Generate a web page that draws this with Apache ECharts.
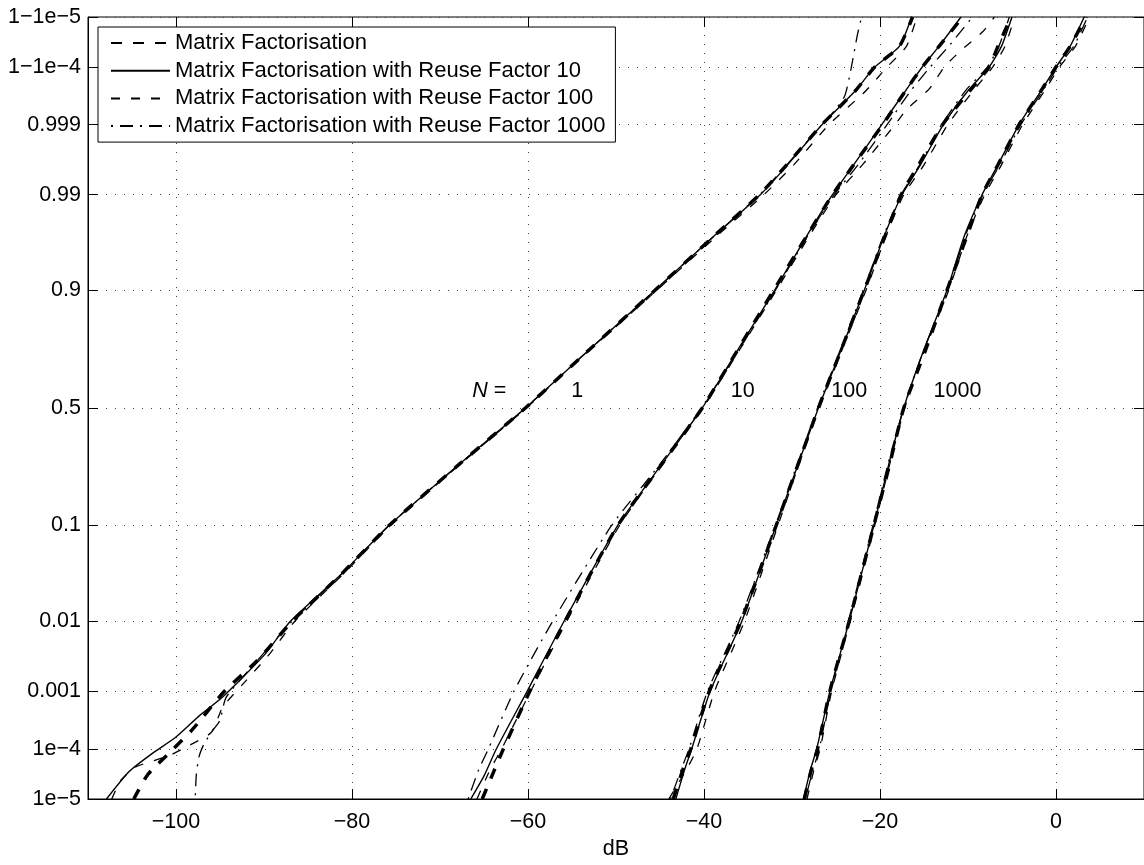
<!DOCTYPE html>
<html>
<head>
<meta charset="utf-8">
<script src="https://cdn.jsdelivr.net/npm/echarts@6/dist/echarts.min.js"></script>
<style>
  html, body { margin: 0; padding: 0; background: #fff; }
  #chart { width: 1144px; height: 865px; }
</style>
</head>
<body>
<div id="chart"></div>
<script>
// axis ticks
const xTicks = [-100, -80, -60, -40, -20, 0];
const yTickProbs = [1e-5, 1e-4, 0.001, 0.01, 0.1, 0.5, 0.9, 0.99, 0.999, 0.9999, 0.99999];
const yTickLabels = ["1e\u22125", "1e\u22124", "0.001", "0.01", "0.1", "0.5", "0.9", "0.99", "0.999", "1\u22121e\u22124", "1\u22121e\u22125"];

const seriesNames = [
  "Matrix Factorisation",
  "Matrix Factorisation with Reuse Factor 10",
  "Matrix Factorisation with Reuse Factor 100",
  "Matrix Factorisation with Reuse Factor 1000",
];

// curve labels (dB, probability)
const annoTexts = ["N =", "1", "10", "100", "1000"];
const annoDb = [-64.4, -54.4, -35.6, -23.5, -11.2];
const annoProb = 0.572;

// each curve: [dB, cumulative probability]
// N = 1
const mfN1 = [[-104.8,1e-5],[-103.2,3.2e-5],[-100.3,1e-4],[-98.1,2.3e-4],[-94.5,1e-3],[-90.7,3e-3],[-86.8,0.01],[-81.2,0.035],[-75.8,0.1],[-67.8,0.27],[-60.3,0.5],[-53.3,0.73],[-45.6,0.9],[-38.8,0.97],[-33.7,0.99],[-30.6,0.996],[-26.6,0.999],[-22.8,0.99973],[-20.6,0.9999],[-17.8,0.99996],[-16.3,0.99999]];
const r10N1 = [[-107.9,1e-5],[-105.3,3.7e-5],[-102.8,8e-5],[-100,1.66e-4],[-97.3,4e-4],[-94.7,8.1e-4],[-89.9,3.6e-3],[-87,0.01],[-81.2,0.035],[-75.8,0.1],[-67.8,0.27],[-60.3,0.5],[-53.3,0.73],[-45.6,0.9],[-38.8,0.97],[-33.6,0.99],[-30.5,0.996],[-26.6,0.999],[-22.8,0.99973],[-20.6,0.9999],[-17.8,0.99996],[-16.4,0.99999]];
const r100N1 = [[-107.3,1e-5],[-106.3,2.4e-5],[-104.6,4.5e-5],[-102.5,6e-5],[-100.7,7.6e-5],[-98.8,1.1e-4],[-96,2e-4],[-94.7,5.5e-4],[-92.4,1.3e-3],[-89.4,3.6e-3],[-86.5,0.01],[-81,0.035],[-75.6,0.1],[-67.7,0.27],[-60.2,0.5],[-53.2,0.73],[-45.4,0.9],[-38.5,0.97],[-33.2,0.99],[-29.8,0.996],[-25.8,0.999],[-21.6,0.99973],[-19.2,0.9999],[-17,0.99996],[-15.8,0.99999]];
const r1000N1 = [[-97.8,1.2e-5],[-97.7,3e-5],[-97.4,7e-5],[-96.8,1.26e-4],[-95.8,2.2e-4],[-95,3.3e-4],[-94.3,8e-4],[-90.7,3e-3],[-86.8,0.01],[-81.2,0.035],[-75.8,0.1],[-67.8,0.27],[-60.3,0.5],[-53.3,0.73],[-45.6,0.9],[-38.8,0.97],[-33.7,0.99],[-30.6,0.996],[-26.6,0.999],[-25.2,0.9994],[-24,0.99967],[-23.3,0.99989],[-22.6,0.999975],[-22.1,0.99999]];

// N = 10
const mfN10 = [[-65.2,1e-5],[-63.8,4e-5],[-62.8,1e-4],[-59.8,0.001],[-55.8,0.01],[-49.8,0.1],[-44.8,0.27],[-40.2,0.5],[-36.3,0.73],[-32.1,0.9],[-28.3,0.97],[-25.4,0.99],[-23,0.996],[-19.7,0.999],[-17.1,0.99973],[-15.2,0.9999],[-13.3,0.99996],[-10.6,0.99999]];
const r10N10 = [[-66.5,1e-5],[-65,3e-5],[-63.6,1e-4],[-60.1,0.001],[-55.9,0.01],[-49.8,0.1],[-44.8,0.27],[-40.2,0.5],[-36.3,0.73],[-32,0.9],[-28.3,0.97],[-25.4,0.99],[-23,0.996],[-19.8,0.999],[-17.1,0.99973],[-15.2,0.9999],[-13.3,0.99996],[-10.8,0.99999]];
const r100N10 = [[-65.8,1e-5],[-64.3,4e-5],[-63,1e-4],[-59.7,0.001],[-55.6,0.01],[-49.6,0.1],[-44.7,0.27],[-40.1,0.5],[-36.1,0.73],[-31.8,0.9],[-28,0.97],[-25,0.99],[-22,0.996],[-18.3,0.999],[-16.9,0.99945],[-14.4,0.99975],[-12.7,0.9999],[-10.9,0.99995],[-8.3,0.99998],[-7,0.99999]];
const r1000N10 = [[-66.8,1e-5],[-65.6,4e-5],[-64.5,1e-4],[-61.6,0.001],[-57.2,0.01],[-50.5,0.1],[-45,0.27],[-40.3,0.5],[-36.2,0.73],[-31.9,0.9],[-28.2,0.97],[-25.2,0.99],[-22.5,0.996],[-19.2,0.999],[-16.5,0.99973],[-14.3,0.9999],[-12.2,0.99996],[-9.5,0.99999]];

// N = 100
const mfN100 = [[-43.5,1e-5],[-42.4,4e-5],[-41.5,1e-4],[-39.4,0.001],[-35.8,0.01],[-31.8,0.1],[-29.3,0.27],[-27,0.5],[-24.5,0.73],[-21.8,0.9],[-19.4,0.97],[-17.6,0.99],[-15.6,0.996],[-12.9,0.999],[-9.8,0.99973],[-7.6,0.9999],[-6.6,0.99996],[-5.1,0.99999]];
const r10N100 = [[-43.2,1e-5],[-42.2,4e-5],[-41.4,1e-4],[-39.3,0.001],[-35.7,0.01],[-31.8,0.1],[-29.3,0.27],[-27,0.5],[-24.5,0.73],[-21.8,0.9],[-19.5,0.97],[-17.5,0.99],[-15.4,0.996],[-12.8,0.999],[-10,0.99973],[-7.6,0.9999],[-6.2,0.99996],[-5,0.99999]];
const r100N100 = [[-44,1e-5],[-42,4e-5],[-40.8,1e-4],[-38.8,0.001],[-35.4,0.01],[-31.6,0.1],[-29.2,0.27],[-26.9,0.5],[-24.4,0.73],[-21.6,0.9],[-19.3,0.97],[-17.3,0.99],[-15,0.996],[-12.3,0.999],[-9.4,0.99973],[-7.2,0.9999],[-5.8,0.99996],[-4.7,0.99999]];
const r1000N100 = [[-43.8,1e-5],[-42.6,4e-5],[-41.7,1e-4],[-39.6,0.001],[-36,0.01],[-31.9,0.1],[-29.4,0.27],[-27.1,0.5],[-24.6,0.73],[-21.9,0.9],[-19.6,0.97],[-17.6,0.99],[-15.5,0.996],[-13,0.999],[-10.3,0.99973],[-7.8,0.9999],[-6.5,0.99996],[-5.3,0.99999]];

// N = 1000
const mfN1000 = [[-28.6,1e-5],[-27.8,4e-5],[-27.1,1e-4],[-25.7,0.001],[-23.5,0.01],[-20.7,0.1],[-18.9,0.27],[-17.3,0.5],[-14.9,0.73],[-12.4,0.9],[-10.1,0.97],[-8.4,0.99],[-6.6,0.996],[-4.2,0.999],[-1.7,0.99973],[0,0.9999],[1.6,0.99996],[3.4,0.99999]];
const r10N1000 = [[-28.7,1e-5],[-27.9,4e-5],[-27.2,1e-4],[-25.7,0.001],[-23.5,0.01],[-20.7,0.1],[-19,0.27],[-17.3,0.5],[-15.1,0.73],[-12.4,0.9],[-10.4,0.97],[-8.4,0.99],[-6.6,0.996],[-4.2,0.999],[-1.7,0.99973],[0,0.9999],[1.6,0.99996],[3.2,0.99999]];
const r100N1000 = [[-28.3,1e-5],[-27.5,4e-5],[-26.8,1e-4],[-25.5,0.001],[-23.4,0.01],[-20.6,0.1],[-18.9,0.27],[-17.2,0.5],[-15,0.73],[-12.2,0.9],[-10.1,0.97],[-8.1,0.99],[-6.2,0.996],[-3.8,0.999],[-1.3,0.99973],[0.4,0.9999],[2.2,0.99996],[3.8,0.99999]];
const r1000N1000 = [[-28.5,1e-5],[-27.6,4e-5],[-26.9,1e-4],[-25.6,0.001],[-23.6,0.01],[-20.8,0.1],[-19.1,0.27],[-17.3,0.5],[-15.1,0.73],[-12.3,0.9],[-10.3,0.97],[-8.3,0.99],[-6.4,0.996],[-4,0.999],[-1.5,0.99973],[0.2,0.9999],[2,0.99996],[3.6,0.99999]];

const curves = [
  [mfN1, mfN10, mfN100, mfN1000],
  [r10N1, r10N10, r10N100, r10N1000],
  [r100N1, r100N10, r100N100, r100N1000],
  [r1000N1, r1000N10, r1000N100, r1000N1000],
];

// normal probability paper: inverse normal cdf (Acklam)
function probit(p) {
  const a = [-3.969683028665376e1, 2.209460984245205e2, -2.759285104469687e2, 1.38357751867269e2, -3.066479806614716e1, 2.506628277459239];
  const b = [-5.447609879822406e1, 1.615858368580409e2, -1.556989798598866e2, 6.680131188771972e1, -1.328068155288572e1];
  const c = [-7.784894002430293e-3, -3.223964580411365e-1, -2.400758277161838, -2.549732539343734, 4.374664141464968, 2.938163982698783];
  const d = [7.784695709041462e-3, 3.224671290700398e-1, 2.445134137142996, 3.754408661907416];
  const tail = (q) =>
    (((((c[0] * q + c[1]) * q + c[2]) * q + c[3]) * q + c[4]) * q + c[5]) /
    ((((d[0] * q + d[1]) * q + d[2]) * q + d[3]) * q + 1);
  if (p < 0.02425) return tail(Math.sqrt(-2 * Math.log(p)));
  if (p > 1 - 0.02425) return -tail(Math.sqrt(-2 * Math.log(1 - p)));
  const q = p - 0.5, r = q * q;
  return ((((((a[0] * r + a[1]) * r + a[2]) * r + a[3]) * r + a[4]) * r + a[5]) * q) /
    (((((b[0] * r + b[1]) * r + b[2]) * r + b[3]) * r + b[4]) * r + 1);
}

const yTickZ = yTickProbs.map(probit);
const yMin = yTickZ[0];
const yMax = yTickZ[yTickZ.length - 1];

const FONT = "'Liberation Sans', Arial, sans-serif";
const lineStyles = [
  { color: "#000", width: 3.5, type: [11, 11] },
  { color: "#000", width: 1.4, type: "solid" },
  { color: "#000", width: 1.3, type: [9, 11] },
  { color: "#000", width: 1.3, type: [2, 7, 13, 7] },
];

const series = [];
curves.forEach((group, i) => {
  group.forEach((pts) => {
    series.push({
      type: "line",
      name: seriesNames[i],
      data: pts.map(([db, p]) => [db, probit(p)]),
      symbol: "none",
      smooth: 0.2,
      lineStyle: lineStyles[i],
      itemStyle: { color: "#000" },
      silent: true,
    });
  });
});

series.push({
  type: "scatter",
  name: "labels",
  symbolSize: 0,
  silent: true,
  itemStyle: { opacity: 1, color: "#000" },
  data: annoTexts.map((t, i) => ({ name: t, value: [annoDb[i], probit(annoProb)] })),
  label: {
    show: true,
    position: "inside",
    color: "#000",
    fontFamily: FONT,
    fontSize: 21.5,
    formatter: (p) => (p.name === "N =" ? "{i|N} =" : p.name),
    rich: { i: { fontStyle: "italic", fontFamily: FONT, fontSize: 21.5, color: "#000" } },
  },
});

const fmtX = (v) => (v < 0 ? "\u2212" + -v : String(v));
const fmtY = (v) => {
  let best = 0;
  yTickZ.forEach((z, i) => { if (Math.abs(z - v) < Math.abs(yTickZ[best] - v)) best = i; });
  return yTickLabels[best];
};

const chart = echarts.init(document.getElementById("chart"), null, { renderer: "canvas" });
chart.setOption({
  animation: false,
  backgroundColor: "#fff",
  textStyle: { fontFamily: FONT },
  grid: {
    left: 88, top: 17, width: 1056, height: 789,
    show: true, borderColor: "#000", borderWidth: 1, backgroundColor: "transparent",
  },
  legend: {
    data: seriesNames,
    orient: "vertical",
    left: 98, top: 27,
    itemWidth: 59, itemHeight: 21, itemGap: 5.7,
    padding: [5, 10, 5, 12],
    backgroundColor: "#fff",
    borderColor: "#000", borderWidth: 1,
    selectedMode: false,
    itemStyle: { opacity: 0 },
    textStyle: { fontSize: 22, color: "#000", fontFamily: FONT, lineHeight: 21 },
  },
  xAxis: [
    {
      type: "value", min: -110, max: 10,
      name: "dB", nameLocation: "middle", nameGap: 39,
      nameTextStyle: { fontSize: 21.5, color: "#000", fontFamily: FONT },
      axisLine: { show: true, onZero: false, lineStyle: { color: "#000", width: 1 } },
      axisTick: { inside: true, length: 10, customValues: xTicks, lineStyle: { color: "#000" } },
      axisLabel: { customValues: xTicks, formatter: fmtX, fontSize: 21.5, color: "#000", margin: 12, fontFamily: FONT },
      splitLine: { show: true, lineStyle: { color: "#444", width: 1, type: [1, 8] } },
    },
    {
      type: "value", min: -110, max: 10, position: "top",
      axisLine: { show: false, onZero: false },
      axisTick: { inside: true, length: 10, customValues: xTicks, lineStyle: { color: "#000" } },
      axisLabel: { show: false },
      splitLine: { show: false },
    },
  ],
  yAxis: [
    {
      type: "value", min: yMin, max: yMax,
      axisLine: { show: true, onZero: false, lineStyle: { color: "#000", width: 1 } },
      axisTick: { inside: true, length: 10, customValues: yTickZ, lineStyle: { color: "#000" } },
      axisLabel: { customValues: yTickZ, formatter: fmtY, fontSize: 21.5, color: "#000", margin: 7, fontFamily: FONT },
      splitLine: { show: true, lineStyle: { color: "#444", width: 1, type: [1, 8] } },
    },
    {
      type: "value", min: yMin, max: yMax, position: "right",
      axisLine: { show: false, onZero: false },
      axisTick: { inside: true, length: 10, customValues: yTickZ, lineStyle: { color: "#000" } },
      axisLabel: { show: false },
      splitLine: { show: false },
    },
  ],
  series,
});
</script>
</body>
</html>
